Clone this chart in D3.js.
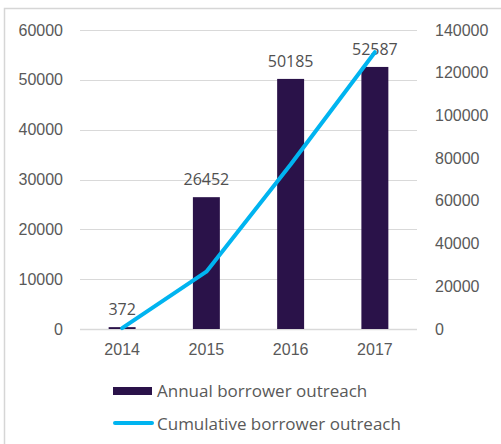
<!DOCTYPE html>
<html>
<head>
<meta charset="utf-8">
<script src="https://cdn.jsdelivr.net/npm/d3@7"></script>
<style>
  html, body { margin: 0; padding: 0; background: #fff; }
  svg { display: block; font-family: "Open Sans", "DejaVu Sans", sans-serif; }
</style>
</head>
<body>
<svg id="chart" width="501" height="444"></svg>
<script>
// Borrower outreach by year
const years = ["2014", "2015", "2016", "2017"];
const annualOutreach = [372, 26452, 50185, 52587];
const cumulativeOutreach = [372, 26824, 77009, 129596];
const leftTicks = [0, 10000, 20000, 30000, 40000, 50000, 60000];
const rightTicks = [0, 20000, 40000, 60000, 80000, 100000, 120000, 140000];
const legendLabels = ["Annual borrower outreach", "Cumulative borrower outreach"];

const barColor = "#2a1249";
const lineColor = "#00b4f0";
const textColor = "#595959";
const gridColor = "#d9d9d9";

const svg = d3.select("#chart");
const plot = { left: 80, right: 417, top: 30, bottom: 329 };

// outer frame (top and left edges)
svg.append("path")
  .attr("d", `M4.5,444 L4.5,8.5 L501,8.5`)
  .attr("fill", "none")
  .attr("stroke", "#d6d6d6")
  .attr("stroke-width", 1.5);

const x = d3.scaleBand()
  .domain(years)
  .range([plot.left, plot.right])
  .paddingInner(0.68)
  .paddingOuter(0.34);

const yLeft = d3.scaleLinear().domain([0, 60000]).range([plot.bottom, plot.top]);
const yRight = d3.scaleLinear().domain([0, 140000]).range([plot.bottom, plot.top]);

// gridlines
svg.append("g")
  .selectAll("line")
  .data(leftTicks)
  .join("line")
  .attr("x1", plot.left)
  .attr("x2", plot.right)
  .attr("y1", d => Math.round(yLeft(d)) + 0.5)
  .attr("y2", d => Math.round(yLeft(d)) + 0.5)
  .attr("stroke", gridColor)
  .attr("stroke-width", d => d === 0 ? 1.5 : 1);

// left axis
const leftAxis = svg.append("g")
  .attr("transform", `translate(${plot.left},0)`)
  .call(d3.axisLeft(yLeft).tickValues(leftTicks).tickFormat(d3.format("d")).tickSize(0).tickPadding(17));
leftAxis.select(".domain").remove();
leftAxis.selectAll("text").attr("fill", textColor).style("font-size", "16px");

// right axis
const rightAxis = svg.append("g")
  .attr("transform", `translate(${plot.right},0)`)
  .call(d3.axisRight(yRight).tickValues(rightTicks).tickFormat(d3.format("d")).tickSize(0).tickPadding(18));
rightAxis.select(".domain").remove();
rightAxis.selectAll("text").attr("fill", textColor).style("font-size", "16px");

// bottom axis labels
const bottomAxis = svg.append("g")
  .attr("transform", `translate(0,${plot.bottom})`)
  .call(d3.axisBottom(x).tickSize(0).tickPadding(15));
bottomAxis.select(".domain").remove();
bottomAxis.selectAll("text").attr("fill", textColor).style("font-size", "16px");

// bars
svg.append("g")
  .selectAll("rect")
  .data(annualOutreach)
  .join("rect")
  .attr("x", (d, i) => x(years[i]))
  .attr("width", x.bandwidth())
  .attr("y", d => yLeft(d))
  .attr("height", d => Math.max(1.5, plot.bottom - yLeft(d)))
  .attr("fill", barColor);

// bar value labels
svg.append("g")
  .selectAll("text")
  .data(annualOutreach)
  .join("text")
  .attr("x", (d, i) => x(years[i]) + x.bandwidth() / 2)
  .attr("y", d => yLeft(d) - 12)
  .attr("text-anchor", "middle")
  .attr("fill", "#505050")
  .style("font-size", "16px")
  .text(d => d);

// cumulative line
const line = d3.line()
  .x((d, i) => x(years[i]) + x.bandwidth() / 2)
  .y(d => yRight(d));

svg.append("path")
  .datum(cumulativeOutreach)
  .attr("d", line)
  .attr("fill", "none")
  .attr("stroke", lineColor)
  .attr("stroke-width", 4)
  .attr("stroke-linecap", "round")
  .attr("stroke-linejoin", "round");

// legend
const legend = svg.append("g");
legend.append("rect")
  .attr("x", 113).attr("y", 387).attr("width", 39).attr("height", 8)
  .attr("fill", barColor);
legend.append("line")
  .attr("x1", 115).attr("x2", 152).attr("y1", 423).attr("y2", 423)
  .attr("stroke", lineColor).attr("stroke-width", 4).attr("stroke-linecap", "round");
legend.selectAll("text")
  .data(legendLabels)
  .join("text")
  .attr("x", 157)
  .attr("y", (d, i) => 391 + i * 33)
  .attr("dy", "0.35em")
  .attr("fill", textColor)
  .style("font-size", "17px")
  .text(d => d);
</script>
</body>
</html>
